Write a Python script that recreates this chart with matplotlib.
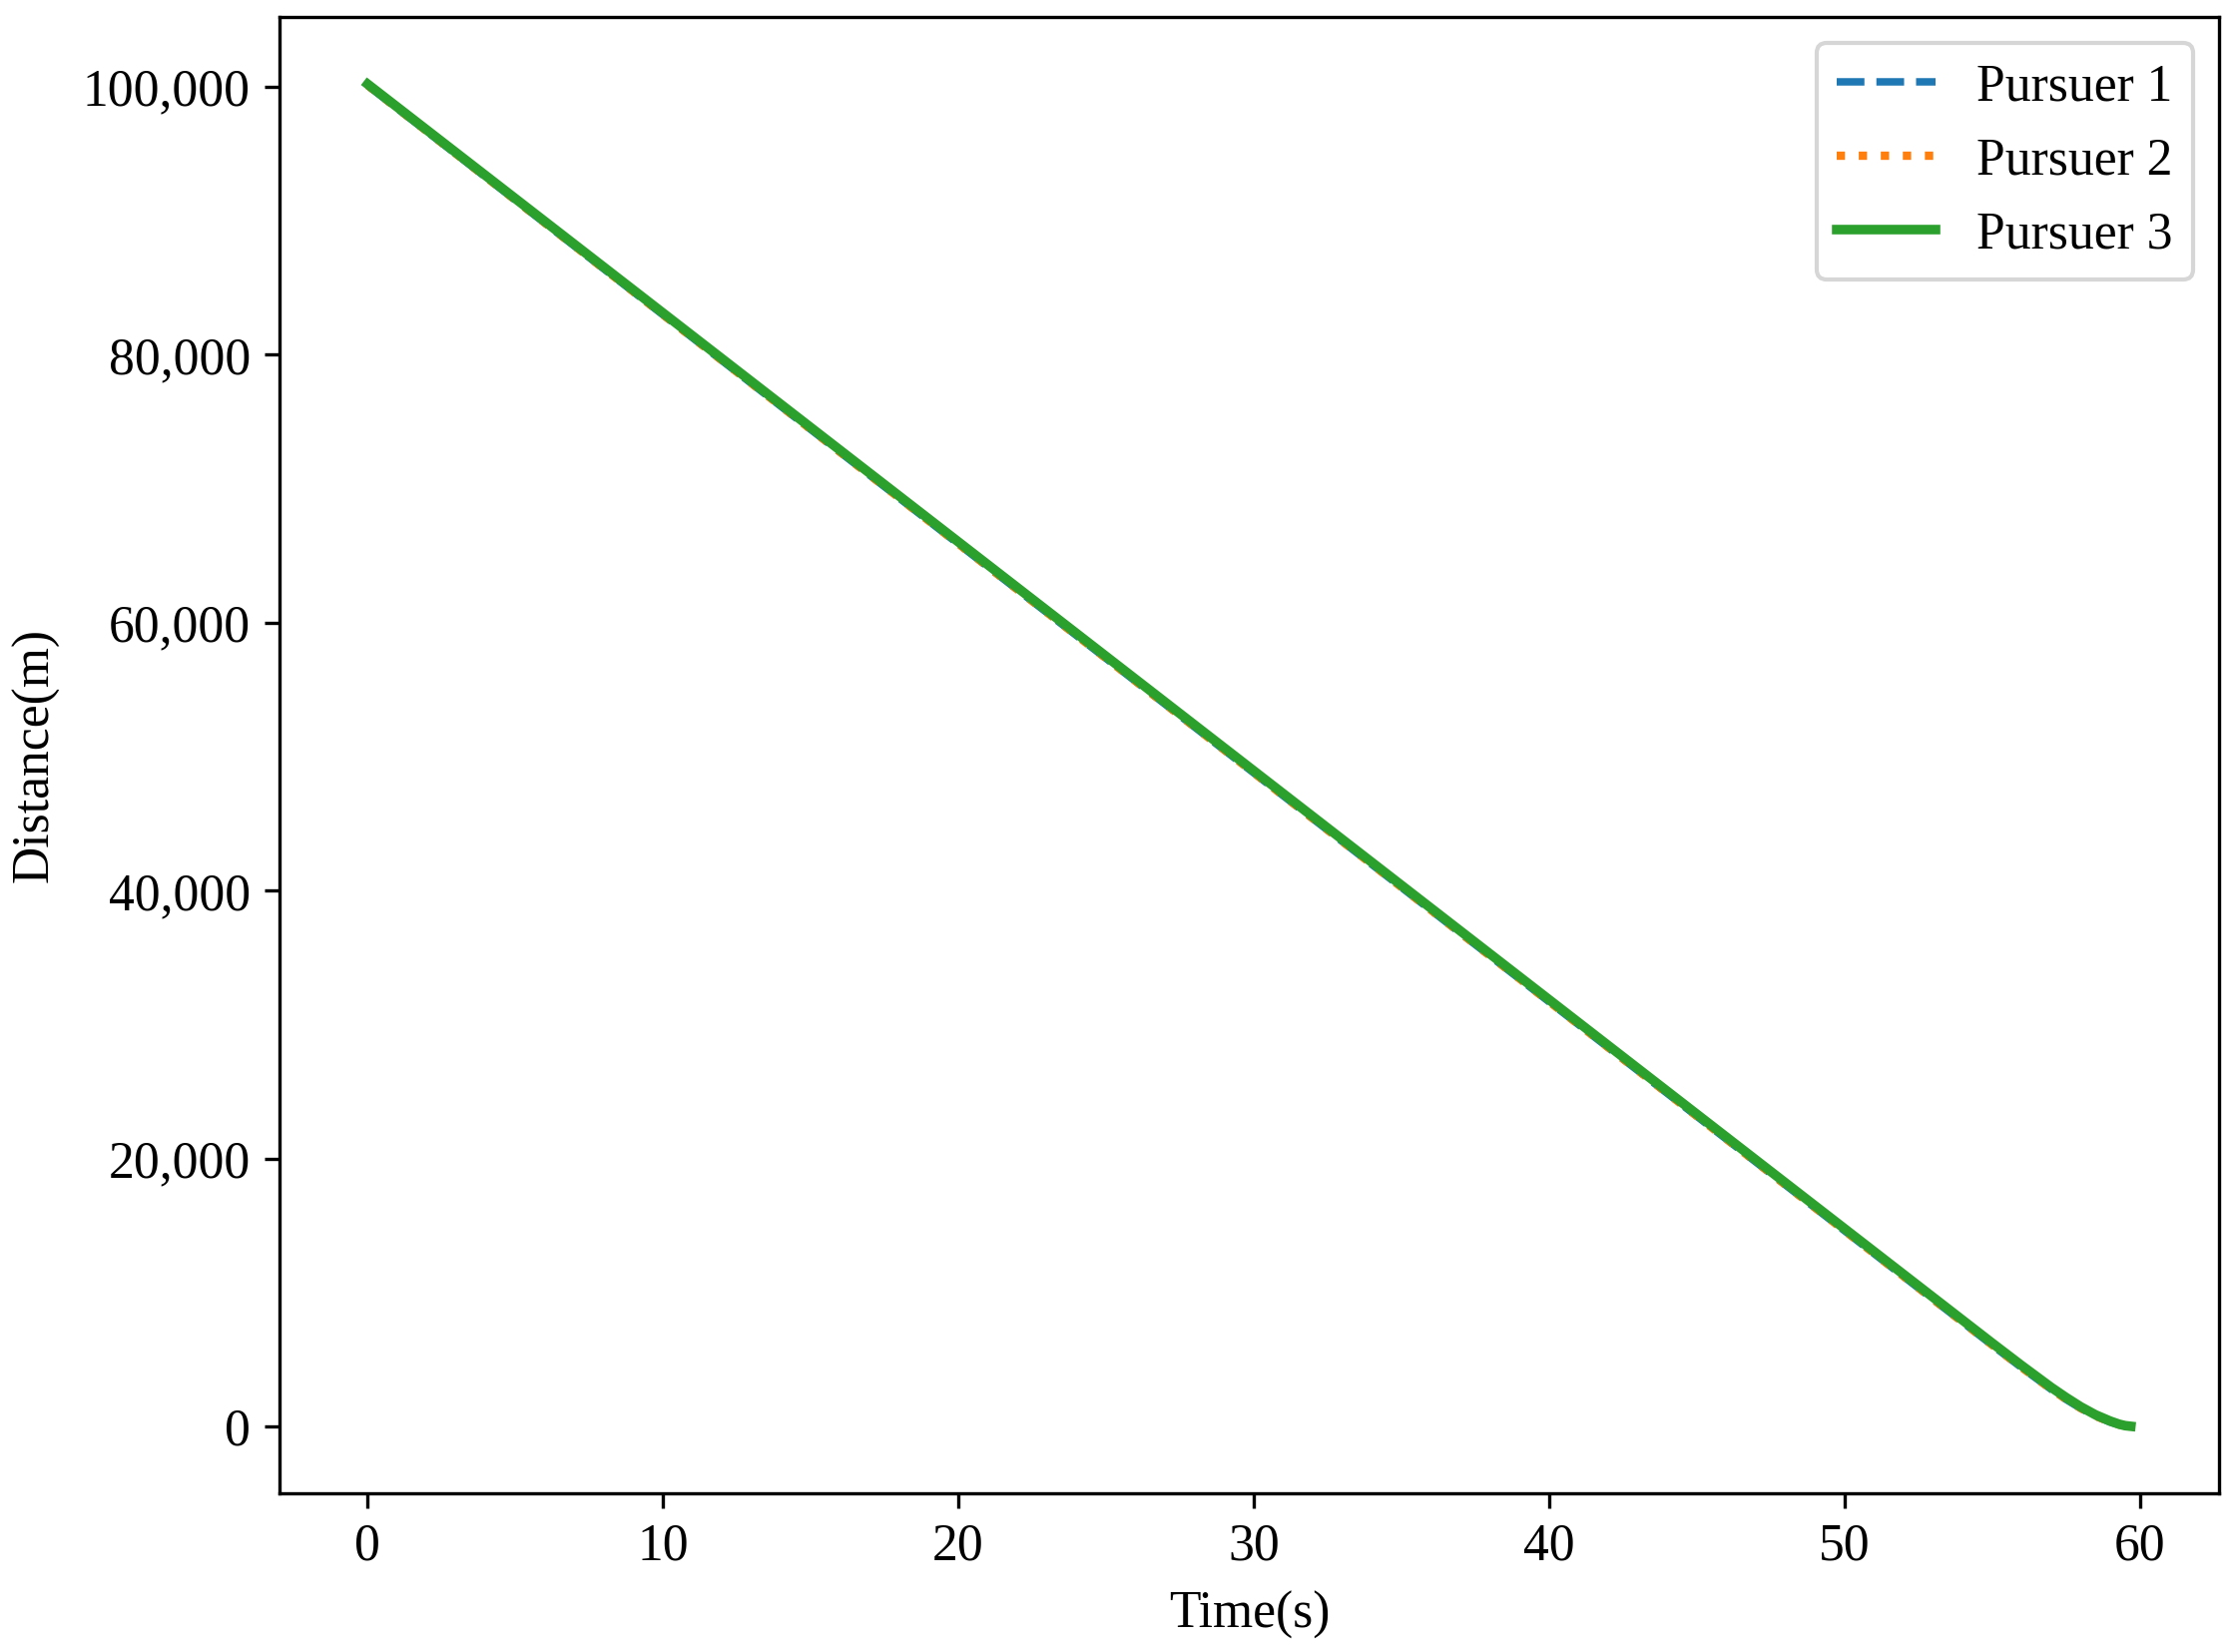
import numpy as np
import matplotlib
matplotlib.use('Agg')
import matplotlib.pyplot as plt
from matplotlib.ticker import StrMethodFormatter

plt.rcParams['font.family'] = ['Liberation Serif', 'DejaVu Serif']
plt.rcParams['font.size'] = 12.4

# 距离曲线
t1 = [0, 10, 20, 30, 40, 50, 55, 56, 57, 57.5, 58, 58.5, 59, 59.3, 59.6]
d1 = [100100, 82980, 65880, 48800, 31720, 14640, 6100, 4420, 2800, 2050, 1380, 800, 350, 150, 40]
t2 = [0, 10, 20, 30, 40, 50, 55, 56, 57, 57.5, 58, 58.5, 59, 59.3, 59.65]
d2 = [100120, 83000, 65900, 48820, 31740, 14660, 6120, 4440, 2820, 2080, 1400, 820, 370, 170, 50]
t3 = [0, 10, 20, 30, 40, 50, 55, 56, 57, 57.5, 58, 58.5, 59, 59.3, 59.5, 59.7]
d3 = [100200, 83120, 66040, 48960, 31880, 14800, 6260, 4580, 2950, 2200, 1500, 900, 430, 200, 90, 40]

fig = plt.figure(figsize=(2240/300, 1655/300), dpi=300)
ax = fig.add_subplot(111)
fig.subplots_adjust(left=0.125, right=0.9924, top=0.9897, bottom=0.096)

ax.plot(t1, d1, '--', color='#1f77b4', lw=1.8, label='Pursuer 1')
ax.plot(t2, d2, ':', color='#ff7f0e', lw=2.0, label='Pursuer 2')
ax.plot(t3, d3, '-', color='#2ca02c', lw=2.3, label='Pursuer 3')

ax.yaxis.set_major_formatter(StrMethodFormatter('{x:,.0f}'))
ax.set_xlabel('Time(s)', labelpad=5)
ax.set_ylabel('Distance(m)', labelpad=5.5)
ax.legend(loc='upper right', handlelength=1.9)

fig.savefig('out.png', dpi=300)
